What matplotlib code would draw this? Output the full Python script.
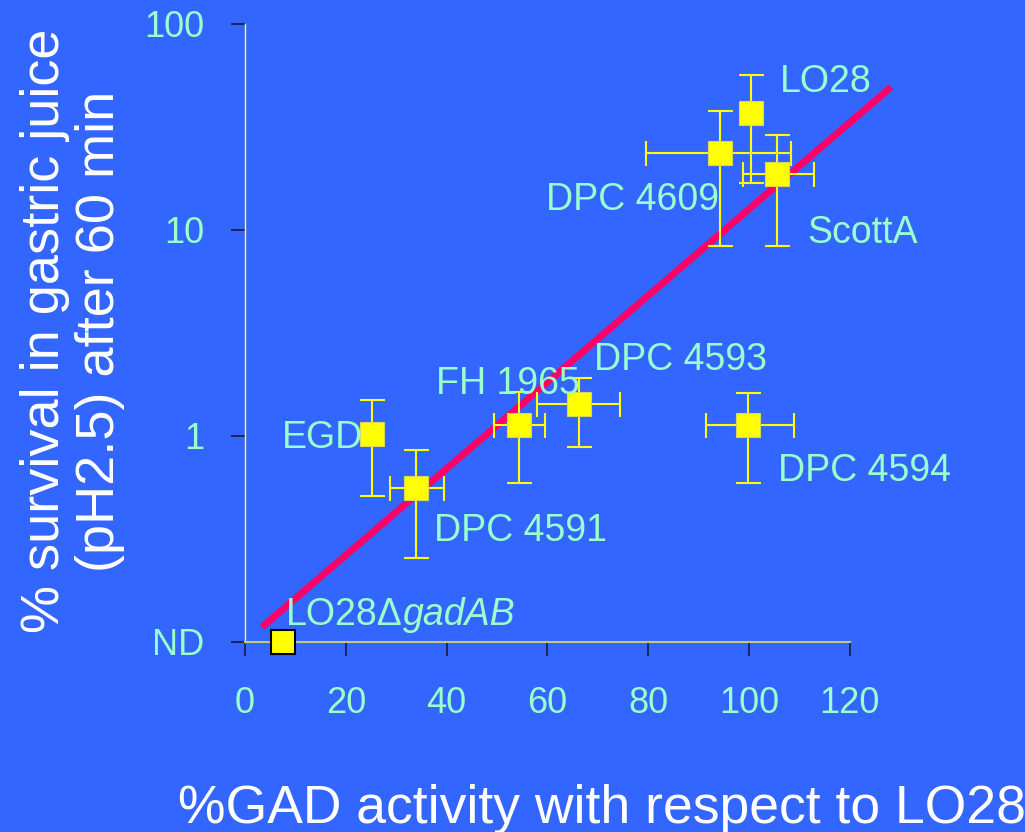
import numpy as np
import matplotlib
matplotlib.use('Agg')
import matplotlib.pyplot as plt
from matplotlib.ticker import FixedLocator, NullLocator

# strains, GAD activity (x, % of LO28) and survival (y, %) with error ranges
strains = ['LO28', 'DPC 4609', 'ScottA', 'DPC 4593', 'FH 1965',
           'EGD', 'DPC 4591', 'DPC 4594', 'LO28ΔgadAB']
gad = [100.4, 94.2, 105.6, 66.2, 54.3, 25.2, 34.0, 99.8, 7.5]
gad_lo = [np.nan, 79.5, 98.8, 58.0, 49.5, np.nan, 28.8, 91.5, np.nan]
gad_hi = [np.nan, 108.3, 113.0, 74.4, 59.6, np.nan, 39.4, 109.0, np.nan]
surv = [37.0, 23.6, 18.7, 1.43, 1.13, 1.02, 0.56, 1.13, 0.1]
surv_lo = [16.9, 8.4, 8.4, 0.88, 0.59, 0.51, 0.256, 0.59, np.nan]
surv_hi = [56.6, 37.8, 28.9, 1.91, 1.63, 1.5, 0.855, 1.62, np.nan]

# label anchor points (data coords) and alignment
label_x = [106.2, 94.0, 111.5, 69.2, 38.0, 23.5, 37.6, 105.8, 8.2]
label_y = [52.3, 14.0, 9.67, 2.34, 1.79, 0.98, 0.346, 0.676, 0.135]
label_ha = ['left', 'right', 'left', 'left', 'left', 'right', 'left', 'left', 'left']

# log-linear regression line: log10(y) = a + b*x
fit_a, fit_b = -0.999, 0.0210
fit_x = [3.4, 128.2]

y_ticks = [0.1, 1, 10, 100]
y_ticklabels = ['ND', '1', '10', '100']
x_ticks = [0, 20, 40, 60, 80, 100, 120]

BG = '#3366FF'
TXT = '#99FFCC'
FONT = ['Liberation Sans', 'DejaVu Sans']
LBL_SIZE = 27

plt.rcParams['font.family'] = FONT

fig = plt.figure(figsize=(10.25, 8.32), dpi=100, facecolor=BG)
ax = fig.add_axes([0.239, 0.2284, 0.590, 0.7428], facecolor=BG)

ax.set_yscale('log')
ax.set_xlim(0, 120)
ax.set_ylim(0.1, 100)

# regression line
fx = np.array(fit_x)
ax.plot(fx, 10 ** (fit_a + fit_b * fx), color='#FF0066', lw=5,
        solid_capstyle='butt', clip_on=False, zorder=2)

# error bars and markers
for i in range(len(strains)):
    xe = None
    ye = None
    if not np.isnan(gad_lo[i]):
        xe = [[gad[i] - gad_lo[i]], [gad_hi[i] - gad[i]]]
    if not np.isnan(surv_lo[i]):
        ye = [[surv[i] - surv_lo[i]], [surv_hi[i] - surv[i]]]
    if xe is not None or ye is not None:
        ax.errorbar([gad[i]], [surv[i]], xerr=xe, yerr=ye, fmt='none',
                    ecolor='#FFFF00', elinewidth=1.5, capsize=9,
                    capthick=1.5, zorder=3)
    edge = 'black' if strains[i] == 'LO28ΔgadAB' else '#D8D850'
    ew = 1.5 if strains[i] == 'LO28ΔgadAB' else 0.8
    ax.plot([gad[i]], [surv[i]], 's', ms=17, color='#FFFF00',
            markeredgecolor=edge, markeredgewidth=ew, clip_on=False, zorder=4)

# strain labels
for i, name in enumerate(strains):
    if name == 'LO28ΔgadAB':
        # upright "LO28Δ" followed by italic gene name
        t = ax.text(label_x[i], label_y[i], 'LO28Δ', color=TXT,
                    fontsize=LBL_SIZE, ha='left', va='center', zorder=5)
        fig.canvas.draw()
        bb = t.get_window_extent()
        x_end = ax.transData.inverted().transform((bb.x1, bb.y0))[0]
        ax.text(x_end, label_y[i], 'gadAB', color=TXT, fontsize=LBL_SIZE,
                style='italic', ha='left', va='center', zorder=5)
    else:
        ax.text(label_x[i], label_y[i], name, color=TXT, fontsize=LBL_SIZE,
                ha=label_ha[i], va='center', zorder=5)

# axes styling
for side in ['top', 'right']:
    ax.spines[side].set_visible(False)
ax.spines['left'].set_color('#FFFF55')
ax.spines['left'].set_linewidth(1)
ax.spines['bottom'].set_color('#C8C878')
ax.spines['bottom'].set_linewidth(1.5)

ax.yaxis.set_major_locator(FixedLocator(y_ticks))
ax.yaxis.set_minor_locator(NullLocator())
ax.set_yticklabels(y_ticklabels)
ax.set_xticks(x_ticks)
ax.tick_params(axis='both', direction='out', length=10, width=1.3,
               color='#1A2050', labelcolor=TXT)
ax.tick_params(axis='y', pad=19, labelsize=26)
ax.tick_params(axis='x', pad=22, labelsize=26)

# axis titles
fig.text(0.587, 0.0108, '%GAD activity with respect to LO28', color='white',
         fontsize=38.5, ha='center', va='baseline')
fig.text(0.071, 0.602, '% survival in gastric juice\n(pH2.5) after 60 min',
         color='white', fontsize=39, rotation=90, ha='center', va='center',
         multialignment='center', linespacing=1.12)

fig.savefig('out.png', dpi=100, facecolor=BG)
